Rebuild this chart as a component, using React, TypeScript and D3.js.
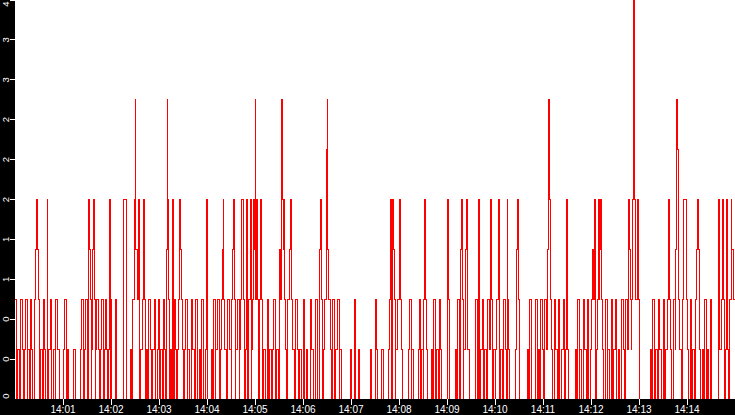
import React, { useMemo } from 'react'
import * as d3 from 'd3'

// one character per second, value in half units (0..8 -> 0..4)
const min00 = '22011002210012201102210022' + '343210' + '11022100' + '4' + '0112200110221100' + '000'
const min01 = '0' + '1220110' + '00000' + '1100' + '00000' + '1220012210' + '43' + '201' + '34' + '2012210012200121101' + '4' + '0'
const min02 = '20' + '000' + '2200' + '0000000' + '444' + '00000' + '11022' + '463324' + '201122' + '4' + '20110221001122' + '00' + '12'
const min03 = '201102210' + '364' + '20110' + '4' + '0221012' + '343' + '2100122011002211012200110221001' + '4'
const min04 = '10' + '000' + '11022011220012' + '34' + '21100221102' + '34' + '201122012' + '443' + '201' + '4' + '1022' + '4' + '012' + '43'
const min05 = '624' + '2012' + '4' + '20011002201100122001102' + '326434' + '210122' + '343' + '21100221001100'
const min06 = '220011000221100122001' + '34' + '201122' + '563' + '221102200112201100' + '000000000' + '1'
const min07 = '100022000110000' + '000000000110000' + '2210' + '0000' + '1100' + '00000' + '12' + '4' + '20' + '43' + '201122'
const min08 = '24' + '2100000000' + '1220110' + '00000' + '12201102' + '4' + '21100' + '00' + '11022001102210' + '000000'
const min09 = '0420' + '000000' + '1102210' + '34' + '2011' + '34' + '21100' + '00000' + '1220' + '4' + '20112201100221' + '4' + '22011'
const min10 = '0122' + '4' + '2011002210' + '4' + '21' + '00000000' + '13420' + '000000000' + '1102200' + '000' + '1220110221'
const min11 = '002211' + '364' + '21100221102200112201' + '4' + '210' + '0000000' + '11022011002211022001'
const min12 = '12324' + '2012' + '4234' + '2110022011002201122001100221102211' + '4321248422242'
const min13 = '1000' + '0000000000' + '11022001102211002201122' + '4' + '21100221' + '365' + '221102' + '4444' + '2'
const min14 = '110022011022' + '343' + '210011022011002' + '000000000' + '4' + '2112' + '43' + '201' + '4' + '21022' + '433' + '22'

const minutes = [min00, min01, min02, min03, min04, min05, min06, min07, min08, min09, min10, min11, min12, min13, min14]

const yTicks = [0, 0.4, 0.8, 1.2, 1.6, 2.0, 2.4, 2.8, 3.2, 3.6, 4.0]

const W = 735
const H = 415
const left = 15
const bottom = 399

const start = new Date(2020, 0, 1, 14, 0, 0)
const end = new Date(2020, 0, 1, 14, 15, 0)

export default function App() {
    const values = useMemo(() => minutes.join('').split('').map(c => +c / 2), [])

    const x = useMemo(() => d3.scaleTime().domain([start, end]).range([left, W]), [])
    const y = useMemo(() => d3.scaleLinear().domain([0, 4]).range([bottom, 0]), [])

    const points = useMemo(() => {
        const pts: [Date, number][] = values.map((v, i) => [new Date(+start + i * 1000), v])
        pts.push([end, values[values.length - 1]])
        return pts
    }, [values])

    const path = d3.line<[Date, number]>()
        .x(d => x(d[0]))
        .y(d => y(d[1]))
        .curve(d3.curveStepAfter)(points) || ''

    const xTicks = d3.timeMinute.range(new Date(+start + 60000), end)
    const fmt = d3.timeFormat('%H:%M')

    return (
        <svg width={W} height={H} style={{ position: 'fixed', left: 0, top: 0, background: '#fff' }}>
            <path d={path} fill="none" stroke="#ff0000" strokeWidth={1} shapeRendering="crispEdges" />

            <rect x={0} y={0} width={left} height={H} fill="#000" />
            {yTicks.map(t => {
                const ty = y(t)
                const ly = Math.min(Math.max(ty, 4), 396)
                return (
                    <g key={t}>
                        <line x1={10} x2={left} y1={ty} y2={ty} stroke="#fff" strokeWidth={1} shapeRendering="crispEdges" />
                        <text
                            transform={`translate(9 ${ly}) rotate(-90)`}
                            textAnchor="middle"
                            fill="#fff"
                            fontSize={9.5}
                            fontFamily="Liberation Sans, Arial, sans-serif"
                        >
                            {Math.floor(t + 1e-9)}
                        </text>
                    </g>
                )
            })}

            <rect x={0} y={bottom} width={W} height={H - bottom} fill="#000" />
            {xTicks.map(t => (
                <g key={+t}>
                    <line x1={x(t)} x2={x(t)} y1={bottom} y2={bottom + 6} stroke="#fff" strokeWidth={1} shapeRendering="crispEdges" />
                    <text
                        x={x(t)}
                        y={413}
                        textAnchor="middle"
                        fill="#fff"
                        fontSize={10}
                        fontFamily="Liberation Sans, Arial, sans-serif"
                    >
                        {fmt(t)}
                    </text>
                </g>
            ))}
        </svg>
    )
}
